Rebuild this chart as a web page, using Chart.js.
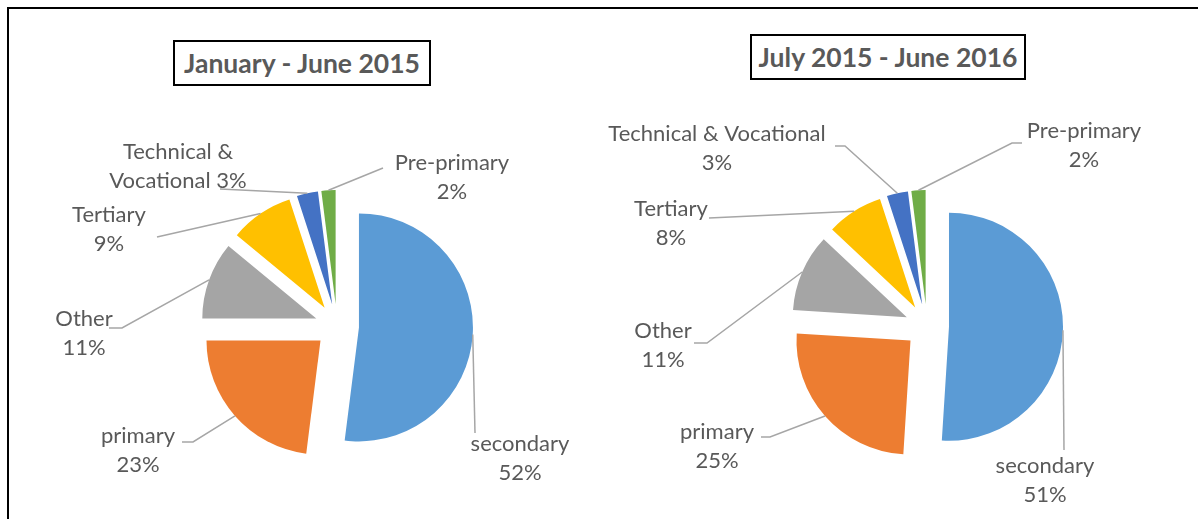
<!DOCTYPE html>
<html>
<head>
<meta charset="utf-8">
<script src="https://cdn.jsdelivr.net/npm/chart.js@4.4.1/dist/chart.umd.min.js"></script>
<style>
    html, body { margin: 0; padding: 0; background: #fff; }
    body { width: 1198px; height: 519px; position: relative; overflow: hidden; font-family: Lato, sans-serif; }
    .frame { position: absolute; left: 7px; top: 7px; width: 1300px; height: 700px; border: 2px solid #000; }
    .pane { position: absolute; top: 0; width: 599px; height: 519px; }
    .title {
        position: absolute; box-sizing: border-box; border: 2px solid #000; background: #fff;
        color: #595959; font-weight: bold; font-size: 26.5px; text-align: center;
    }
</style>
</head>
<body>
<div class="frame"></div>
<div class="pane" style="left:0"><canvas id="chartA"></canvas></div>
<div class="pane" style="left:599px"><canvas id="chartB"></canvas></div>
<div class="title" style="left:173px; top:40px; width:258px; height:46px; line-height:42px;">January - June 2015</div>
<div class="title" style="left:750px; top:34px; width:276px; height:46px; line-height:42px;">July 2015 - June 2016</div>

<script>
// Data
const categories = ['secondary', 'primary', 'Other', 'Tertiary', 'Technical & Vocational', 'Pre-primary'];
const share2015H1 = [52, 23, 11, 9, 3, 2];
const share2015_16 = [51, 25, 11, 8, 3, 2];
const sliceColors = ['#5B9BD5', '#ED7D31', '#A5A5A5', '#FFC000', '#4472C4', '#70AD47'];

// Label placement, relative to the pie centre (Excel-style manual layout)
const layoutA = [
    { dx: 183, dy: 132, leader: [[138, 107]] },
    { dx: -199, dy: 124, leader: [[-144, 116], [-155, 116]] },
    { dx: -253, dy: 7, leader: [[-215, 2], [-228, 2]] },
    { dx: -228, dy: -97, leader: [[-180, -89]] },
    { dx: -159, dy: -160, leader: [[-117, -137]], text: ['Technical &', 'Vocational {p}'] },
    { dx: 115, dy: -149, leader: [[46, -158]] }
];
const layoutB = [
    { dx: 118, dy: 154, leader: [[137, 124]] },
    { dx: -210, dy: 120, leader: [[-157, 111], [-166, 111]] },
    { dx: -264, dy: 19, leader: [[-220, 17], [-233, 17]] },
    { dx: -256, dy: -103, leader: [[-218, -108]] },
    { dx: -210, dy: -178, leader: [[-82, -180], [-92, -180]] },
    { dx: 157, dy: -181, leader: [[85, -183], [95, -183]] }
];

const EXPLODE = 22;

// push every slice out along its mid angle
const explodePlugin = {
    id: 'explode',
    afterDatasetUpdate: function(chart, args) {
        args.meta.data.forEach(function(arc) {
            const mid = (arc.startAngle + arc.endAngle) / 2;
            arc.x += Math.cos(mid) * EXPLODE;
            arc.y += Math.sin(mid) * EXPLODE;
        });
    }
};

// data labels with leader lines
const calloutPlugin = {
    id: 'callouts',
    afterDatasetsDraw: function(chart, args, opts) {
        const ctx = chart.ctx;
        const area = chart.chartArea;
        const cx = (area.left + area.right) / 2;
        const cy = (area.top + area.bottom) / 2;
        const values = chart.data.datasets[0].data;
        const meta = chart.getDatasetMeta(0);

        ctx.save();
        meta.data.forEach(function(arc, i) {
            const spec = opts.layout[i];
            const mid = (arc.startAngle + arc.endAngle) / 2;
            const r = arc.outerRadius;

            ctx.beginPath();
            ctx.moveTo(arc.x + Math.cos(mid) * r, arc.y + Math.sin(mid) * r);
            spec.leader.forEach(function(p) {
                ctx.lineTo(cx + p[0], cy + p[1]);
            });
            ctx.strokeStyle = '#A6A6A6';
            ctx.lineWidth = 1.5;
            ctx.stroke();

            const pct = values[i] + '%';
            const tmpl = spec.text || ['{n}', '{p}'];
            const lines = tmpl.map(function(t) {
                return t.replace('{n}', chart.data.labels[i]).replace('{p}', pct);
            });
            ctx.font = '22px Lato';
            ctx.fillStyle = '#595959';
            ctx.textAlign = 'center';
            ctx.textBaseline = 'middle';
            const lineH = 29;
            lines.forEach(function(t, k) {
                const y = cy + spec.dy + (k - (lines.length - 1) / 2) * lineH;
                ctx.fillText(t, cx + spec.dx, y);
            });
        });
        ctx.restore();
    }
};

function makePie(id, values, layout, padding) {
    return new Chart(document.getElementById(id), {
        type: 'pie',
        data: {
            labels: categories,
            datasets: [{
                data: values,
                backgroundColor: sliceColors,
                borderWidth: 0
            }]
        },
        options: {
            responsive: false,
            animation: false,
            events: [],
            radius: 114,
            layout: { padding: padding },
            plugins: {
                legend: { display: false },
                tooltip: { enabled: false },
                callouts: { layout: layout }
            }
        },
        plugins: [explodePlugin, calloutPlugin]
    });
}

document.getElementById('chartA').width = 599;
document.getElementById('chartA').height = 519;
document.getElementById('chartB').width = 599;
document.getElementById('chartB').height = 519;

makePie('chartA', share2015H1, layoutA, { left: 100, right: 25, top: 170, bottom: 37 });
makePie('chartB', share2015_16, layoutB, { left: 82, right: 25, top: 170, bottom: 37 });
</script>
</body>
</html>
